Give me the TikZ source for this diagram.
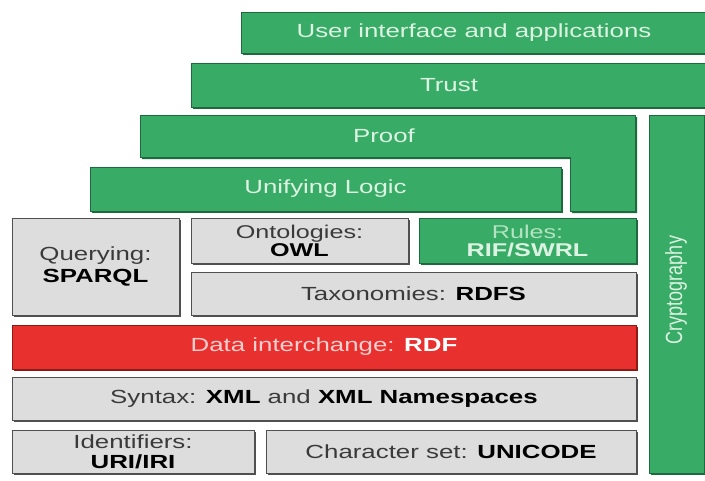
\documentclass[tikz,border=0pt]{standalone}
\usepackage{fontspec}
\setmainfont{Liberation Sans}
\usetikzlibrary{shadows}
\definecolor{grn}{HTML}{38AC66}
\definecolor{grnd}{HTML}{1E6A3E}
\definecolor{gry}{HTML}{DDDDDD}
\definecolor{gryd}{HTML}{505050}
\definecolor{rd}{HTML}{E8302E}
\definecolor{rdd}{HTML}{8E1A18}
\definecolor{gtxt}{HTML}{DDF2E2}
\definecolor{gtxtf}{HTML}{B4E2C2}
\definecolor{dtxt}{HTML}{3A3A3A}
\definecolor{rtxt}{HTML}{F8CFCF}
\newcommand{\wt}[1]{\scalebox{1.36}[1]{#1}}
\newcommand{\bk}[1]{{\bfseries\color{black}#1}}
\newcommand{\layer}[7]{\node[#1, minimum width={#5-#3}, minimum height={#6-#4}] (#2) at ({(#3+#5)/2},{(#4+#6)/2}) {#7};}
\begin{document}
\begin{tikzpicture}[x=1pt,y=-1pt,
  base/.style={rectangle, inner sep=0pt, font=\fontsize{19}{21}\selectfont, align=center, line width=0.7pt},
  gshadow/.style={drop shadow={shadow xshift=2pt, shadow yshift=-2pt, fill=grnd, opacity=1}},
  gbox/.style={base, fill=grn, draw=grnd, text=gtxt, gshadow},
  graybox/.style={base, fill=gry, draw=gryd, text=dtxt, drop shadow={shadow xshift=2pt, shadow yshift=-2pt, fill=gryd, opacity=1}},
  redbox/.style={base, fill=rd, draw=rdd, text=rtxt, drop shadow={shadow xshift=2pt, shadow yshift=-2pt, fill=rdd, opacity=1}},
  gtext/.style={inner sep=0pt, font=\fontsize{19}{21}\selectfont, text=gtxt}
]
\fill[white] (0,0) rectangle (705,480);
\useasboundingbox (0,0) rectangle (705,480);

\layer{gbox}{ui}{241}{12}{707}{53}{\wt{User interface and applications}}
\layer{gbox}{trust}{191}{63}{707}{107}{\wt{Trust}}
\draw[fill=grn, draw=grnd, line width=0.7pt, gshadow] (140,115) -- (635,115) -- (635,211) -- (570,211) -- (570,157) -- (140,157) -- cycle;
\node[gtext] (proof) at (384,136) {\wt{Proof}};
\layer{gbox}{logic}{90}{167}{561}{211}{\wt{Unifying Logic}}
\layer{gbox}{crypto}{649}{115}{704}{473}{}
\node[gtext, rotate=90, font=\fontsize{18}{20}\selectfont] (cryptotext) at (676,290) {\scalebox{1}[1.3]{Cryptography}};

\layer{graybox, font=\fontsize{19}{22}\selectfont}{query}{12}{218}{179}{315}{\wt{Querying:}\\\wt{\bk{SPARQL}}}
\layer{graybox, font=\fontsize{18.5}{18}\selectfont}{onto}{191}{218}{408}{263}{\wt{Ontologies:}\\\wt{\bk{OWL}}}
\layer{gbox, font=\fontsize{18.5}{18}\selectfont, text=gtxtf}{rules}{419}{218}{636}{263}{\wt{Rules:}\\\wt{\textbf{\color{gtxt}RIF/SWRL}}}
\layer{graybox}{taxo}{191}{272}{636}{315}{\wt{Taxonomies: \bk{RDFS}}}
\layer{redbox}{rdf}{12}{325}{636}{369}{\wt{Data interchange: \textbf{\color{white}RDF}}}
\layer{graybox}{syntax}{12}{377}{636}{420}{\wt{Syntax: \bk{XML} and \bk{XML Namespaces}}}
\layer{graybox, font=\fontsize{19}{20}\selectfont}{ident}{12}{430}{254}{473}{\wt{Identifiers:}\\\wt{\bk{URI/IRI}}}
\layer{graybox}{charset}{266}{430}{636}{473}{\wt{Character set: \bk{UNICODE}}}
\end{tikzpicture}
\end{document}
